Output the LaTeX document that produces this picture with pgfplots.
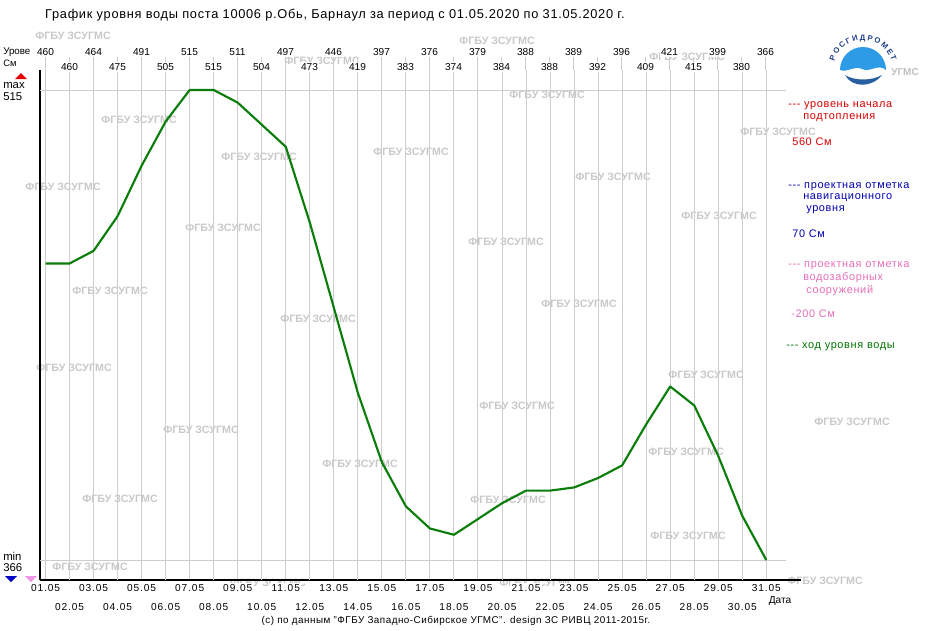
\documentclass[border=0pt]{standalone}
\usepackage{pgfplots}
\usepackage{pgfplotstable}
\pgfplotsset{compat=1.18}
\usepackage{fontspec}
\setmainfont{Liberation Sans}
\usetikzlibrary{decorations.text}
\definecolor{wm}{RGB}{200,200,200}
\definecolor{grd}{RGB}{205,205,205}
\definecolor{lvl}{RGB}{10,125,10}
\definecolor{lred}{RGB}{215,0,0}
\definecolor{lblue}{RGB}{0,0,175}
\definecolor{lpink}{RGB}{230,110,185}
\definecolor{lgreen}{RGB}{0,115,0}
\definecolor{logoblue}{RGB}{45,155,230}
\definecolor{logodark}{RGB}{40,95,160}
\definecolor{logotext}{RGB}{30,60,140}
\definecolor{trired}{RGB}{230,0,0}
\definecolor{triblue}{RGB}{0,0,200}
\definecolor{tripink}{RGB}{240,150,230}
\newcommand{\dash}{{-}{-}{-}}

\pgfplotstableread{
day level
1 460
2 460
3 464
4 475
5 491
6 505
7 515
8 515
9 511
10 504
11 497
12 473
13 446
14 419
15 397
16 383
17 376
18 374
19 379
20 384
21 388
22 388
23 389
24 392
25 396
26 409
27 421
28 415
29 399
30 380
31 366
}\levels

\begin{document}
\begin{tikzpicture}
\begin{scope}[x=0.75pt,y=-0.75pt]
\path[use as bounding box] (0,0) rectangle (940,630);
% watermarks
\foreach \p in {(73,36),(497,41),(322,61),(687,57),(139,120),(547,95),(259,157),(411,152),(63,187),(613,177),(223,228),(506,242),(719,216),(110,291),(579,304),(318,319),(778,132),(74,368),(706,375),(201,430),(517,406),(852,422),(360,464),(686,452),(120,499),(508,500),(688,536),(90,567),(825,581),(268,583),(537,583)}
  \node[text=wm,font=\fontsize{8}{9}\selectfont\bfseries] at \p {ФГБУ ЗСУГМС};
% grid extensions above plot box
\foreach \d in {1,...,31}
  \draw[grd,line width=0.75pt] ({45.5+24*(\d-1)},57) -- ({45.5+24*(\d-1)},70);
\end{scope}

\begin{axis}[
  at={(30pt,-435pt)}, anchor=south west,
  scale only axis, width=570pt, height=382.5pt,
  xmin=0.7708, xmax=32.4375, ymin=359.66, ymax=521.34,
  axis x line*=bottom, axis y line*=left,
  axis line style={black, line width=0.9pt, -},
  ytick=\empty,
  xtick={1,3,...,31},
  xticklabels={01.05,03.05,05.05,07.05,09.05,11.05,13.05,15.05,17.05,19.05,21.05,23.05,25.05,27.05,29.05,31.05},
  extra x ticks={2,4,...,30},
  extra x tick labels={02.05,04.05,06.05,08.05,10.05,12.05,14.05,16.05,18.05,20.05,22.05,24.05,26.05,28.05,30.05},
  extra x tick style={grid=major, xticklabel style={yshift=-14.25pt}},
  major tick length=0pt,
  xmajorgrids, grid style={grd, line width=0.75pt},
  xticklabel style={font=\fontsize{7.6}{9}\selectfont\addfontfeature{LetterSpace=9}, fill=white, inner sep=1pt, anchor=north, yshift=-2.25pt},
  clip=false,
]
\addplot[grd, line width=0.75pt, forget plot] coordinates {(0.7708,515) (31.8125,515)};
\addplot[grd, line width=0.75pt, forget plot] coordinates {(0.7708,366) (31.8125,366)};
\addplot[lvl, line width=1.6pt, line join=round] table[x=day,y=level]{\levels};
\end{axis}

\begin{scope}[x=0.75pt,y=-0.75pt]
% title
\node[font=\fontsize{9.6}{11}\selectfont\addfontfeature{LetterSpace=5.5}] at (335,15) {График уровня воды поста 10006 р.Обь, Барнаул за период с 01.05.2020 по 31.05.2020 г.};
% top value labels
\foreach \d/\v in {1/460,2/460,3/464,4/475,5/491,6/505,7/515,8/515,9/511,10/504,11/497,12/473,13/446,14/419,15/397,16/383,17/376,18/374,19/379,20/384,21/388,22/388,23/389,24/392,25/396,26/409,27/421,28/415,29/399,30/380,31/366}{
  \ifodd\d
    \node[font=\fontsize{7.6}{9}\selectfont, fill=white, inner sep=1pt] at ({45.5+24*(\d-1)},52) {\v};
  \else
    \node[font=\fontsize{7.6}{9}\selectfont, fill=white, inner sep=1pt] at ({45.5+24*(\d-1)},67) {\v};
  \fi
}
\node[font=\fontsize{7.3}{8}\selectfont, anchor=west, inner sep=0pt] at (3,52) {Урове};
\node[font=\fontsize{7}{8}\selectfont, anchor=west, inner sep=0pt] at (3,63) {См};
% max / min markers
\fill[trired] (15,79) -- (27,79) -- (21,73) -- cycle;
\node[font=\fontsize{8.5}{9}\selectfont, anchor=west, inner sep=0pt] at (3,86) {max};
\node[font=\fontsize{8.5}{9}\selectfont, anchor=west, inner sep=0pt] at (3,97) {515};
\node[font=\fontsize{8.5}{9}\selectfont, anchor=west, inner sep=0pt] at (3,556) {min};
\node[font=\fontsize{8.5}{9}\selectfont, anchor=west, inner sep=0pt] at (3,568) {366};
\fill[triblue] (5,576) -- (17,576) -- (11,582) -- cycle;
\fill[tripink] (25,576) -- (37,576) -- (31,582) -- cycle;
% axis caption and footer
\node[font=\fontsize{7.6}{9}\selectfont] at (780,601) {Дата};
\node[font=\fontsize{7.4}{8}\selectfont\addfontfeature{LetterSpace=5}] at (456,621) {(c) по данным "ФГБУ Западно-Сибирское УГМС". design ЗС РИВЦ 2011-2015г.};
% legend
\begin{scope}[every node/.style={font=\fontsize{8.2}{9}\selectfont\addfontfeature{LetterSpace=6}, anchor=west, inner sep=0pt}]
\node[text=lred] at (788,106) {\dash{} уровень начала};
\node[text=lred] at (803,118) {подтопления};
\node[text=lred] at (792,142) {560 См};
\node[text=lblue] at (788,187) {\dash{} проектная отметка};
\node[text=lblue] at (803,198) {навигационного};
\node[text=lblue] at (806,210) {уровня};
\node[text=lblue] at (792,234) {70 См};
\node[text=lpink] at (788,266) {\dash{} проектная отметка};
\node[text=lpink] at (803,278) {водозаборных};
\node[text=lpink] at (806,291) {сооружений};
\node[text=lpink] at (791,314) {-200 См};
\node[text=lgreen] at (786,347) {\dash{} ход уровня воды};
\end{scope}
% logo
\fill[logoblue] (840,70) arc[start angle=180,end angle=360,radius=23]
  .. controls (878,63) and (870,73) .. (862,69)
  .. controls (854,65) and (848,73) .. (840,70) -- cycle;
\fill[logodark] (845,75) .. controls (852,88) and (872,88) .. (882,75)
  .. controls (872,81) and (854,81) .. cycle;
\path[decoration={text along path, text={|\fontsize{5.8}{6}\selectfont\bfseries\color{logotext}|РОСГИДРОМЕТ}, text align={fit to path}}, decorate]
  (863,70) ++(197:30) arc[start angle=197, end angle=343, radius=30];
\node[text=wm!95!black, font=\fontsize{7.5}{9}\selectfont\bfseries] at (905,72) {УГМС};
\end{scope}
\end{tikzpicture}
\end{document}
